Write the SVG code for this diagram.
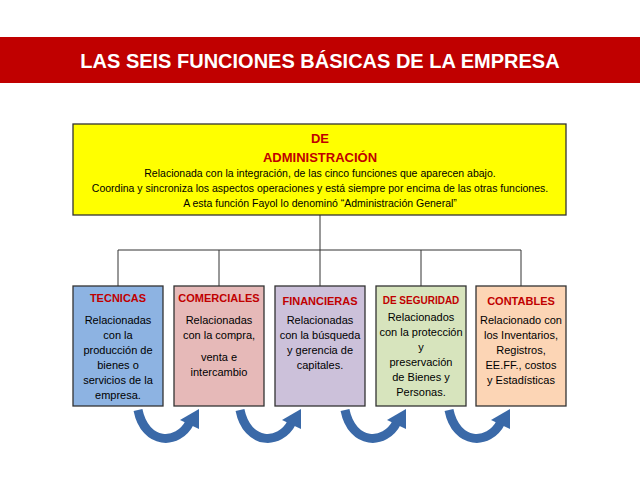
<svg xmlns="http://www.w3.org/2000/svg" width="640" height="480" viewBox="0 0 640 480">
<defs>
<style>
text{font-family:"Liberation Sans",Arial,sans-serif;text-anchor:middle}
.t{font-size:11px;font-weight:bold;fill:#c00000}
.b{font-size:11px;fill:#000}
.box{stroke:#333;stroke-width:1.3}
.ln{stroke:#333;stroke-width:1;fill:none}
.arc{fill:none;stroke:#3a69a8;stroke-width:9}
.hd{fill:#3a69a8}
</style>
<linearGradient id="g" x1="0" y1="0" x2="0" y2="1"><stop offset="0" stop-color="#5b8fd0"/><stop offset="1" stop-color="#2b5591"/></linearGradient>
</defs>
<rect width="640" height="480" fill="#fff"/>
<rect x="0" y="37" width="640" height="46" fill="#c00000"/>
<text x="320" y="68" style="font-size:20px;font-weight:bold;fill:#fff">LAS SEIS FUNCIONES BÁSICAS DE LA EMPRESA</text>
<g id="admin">
<rect class="box" x="73" y="124" width="493" height="91" fill="#ffff00"/>
<text x="320" y="143" style="font-size:13px;font-weight:bold;fill:#c00000">DE</text>
<text x="320" y="162" style="font-size:13px;font-weight:bold;fill:#c00000">ADMINISTRACIÓN</text>
<text x="320" y="177" class="b" style="font-size:10.5px">Relacionada con la integración, de las cinco funciones que aparecen abajo.</text>
<text x="320" y="192" class="b" style="font-size:10.5px">Coordina y sincroniza los aspectos operaciones y  está siempre por encima de las otras funciones.</text>
<text x="320" y="207" class="b" style="font-size:10.5px">A esta función Fayol lo denominó “Administración General”</text>
</g>
<g id="connectors">
<path class="ln" d="M320,215V250M118,250H521M118,250V286M219,250V286M320,250V286M421,250V286M521,250V286"/>
</g>
<g id="tecnicas">
<rect class="box" x="73" y="286" width="90" height="120" fill="#8db3e2"/>
<text x="118" y="302" class="t">TECNICAS</text>
<text class="b"><tspan x="118" y="324">Relacionadas</tspan><tspan x="118" y="339">con la</tspan><tspan x="118" y="354">producción de</tspan><tspan x="118" y="369">bienes o</tspan><tspan x="118" y="384">servicios de la</tspan><tspan x="118" y="399">empresa.</tspan></text>
</g>
<g id="comerciales">
<rect class="box" x="174" y="286" width="90" height="120" fill="#e6b9b8"/>
<text x="219" y="302" class="t">COMERCIALES</text>
<text class="b"><tspan x="219" y="324">Relacionadas</tspan><tspan x="219" y="339">con la compra,</tspan><tspan x="219" y="361">venta e</tspan><tspan x="219" y="376">intercambio</tspan></text>
</g>
<g id="financieras">
<rect class="box" x="275" y="286" width="90" height="120" fill="#ccc1da"/>
<text x="320" y="305" class="t">FINANCIERAS</text>
<text class="b"><tspan x="320" y="324">Relacionadas</tspan><tspan x="320" y="339">con la búsqueda</tspan><tspan x="320" y="354">y gerencia de</tspan><tspan x="320" y="369">capitales.</tspan></text>
</g>
<g id="seguridad">
<rect class="box" x="376" y="286" width="90" height="120" fill="#d7e4bd"/>
<text x="421" y="304" class="t" style="font-size:10px">DE SEGURIDAD</text>
<text class="b"><tspan x="421" y="321">Relacionados</tspan><tspan x="421" y="336">con la protección</tspan><tspan x="421" y="351">y</tspan><tspan x="421" y="366">preservación</tspan><tspan x="421" y="381">de Bienes y</tspan><tspan x="421" y="396">Personas.</tspan></text>
</g>
<g id="contables">
<rect class="box" x="476" y="286" width="90" height="120" fill="#fcd5b5"/>
<text x="521" y="305" class="t">CONTABLES</text>
<text class="b"><tspan x="521" y="324">Relacionado con</tspan><tspan x="521" y="339">los Inventarios,</tspan><tspan x="521" y="354">Registros,</tspan><tspan x="521" y="369">EE.FF., costos</tspan><tspan x="521" y="384">y Estadísticas</tspan></text>
</g>
<g id="arrows">
<g id="a1"><path class="arc" stroke="url(#g)" d="M138,410C145,445 178,446 190,422"/><polygon class="hd" points="180,420 199,409 199,429"/></g>
<use href="#a1" x="102"/>
<use href="#a1" x="207"/>
<use href="#a1" x="311"/>
</g>
</svg>
